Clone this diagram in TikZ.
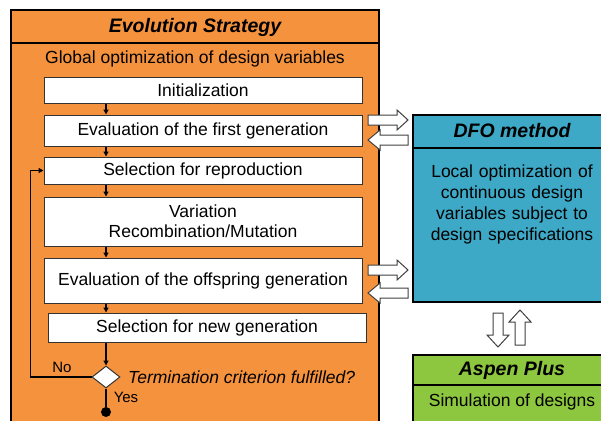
\documentclass[tikz,border=0pt]{standalone}
\usepackage{fontspec}
\setmainfont{Liberation Sans}
\usetikzlibrary{shapes.geometric, arrows.meta}
\definecolor{esorange}{RGB}{245,146,62}
\definecolor{dfoblue}{RGB}{61,169,198}
\definecolor{aspgreen}{RGB}{141,198,63}
\newcommand\fsz{\fontsize{17.5}{21}\selectfont}
\newcommand\ttl{\fontsize{19.5}{23}\selectfont\bfseries\itshape}
\newcommand\smz{\fontsize{15}{18}\selectfont}
\begin{document}
\begin{tikzpicture}[x=1pt,y=-1pt,
  box/.style={draw=black!80, line width=1pt, fill=white, minimum width=318pt, inner sep=0pt, font=\fsz, align=center},
  arr/.style={-{Triangle[length=5pt,width=5pt]}, line width=1.2pt},
  barrow/.style={draw=black!75, fill=white, line width=1pt, line join=miter},
  frame/.style={draw=black, line width=1.8pt},
  ttlnode/.style={font=\ttl, inner sep=0pt},
  txt/.style={font=\fsz, inner sep=0pt, align=center}]
\useasboundingbox (0,0) rectangle (601,420);
\clip (0,0) rectangle (601,420);
% Evolution strategy frame
\path[frame, fill=esorange] (11,10) rectangle (379,440);
\draw[frame] (11,43) -- (379,43);
\node[ttlnode] (est) at (195,27) {Evolution Strategy};
\node[txt] (glob) at (195,59) {Global optimization of design variables};
% inner boxes
\node[box, minimum height=26pt] (init) at (203,90) {Initialization};
\node[box, minimum height=31pt] (eval1) at (203,130.5) {Evaluation of the first generation};
\node[box, minimum height=27pt] (selrep) at (203,170.5) {Selection for reproduction};
\node[box, minimum height=49pt, text depth=0pt] (var) at (203,221.5) {Variation\\[-1pt]Recombination/Mutation};
\node[box, minimum height=45pt] (evalo) at (203,280.5) {Evaluation of the offspring generation};
\node[box, minimum height=29pt] (selnew) at (207,327.5) {Selection for new generation};
\node[diamond, draw=black!80, fill=white, line width=1pt, minimum width=28pt, minimum height=22pt, inner sep=0pt] (dia) at (106,377) {};
\node[circle, fill=black, minimum size=10pt, inner sep=0pt] (endc) at (106,412) {};
\node[font=\fsz\itshape, anchor=west, inner sep=0pt] (term) at (128,377) {Termination criterion fulfilled?};
\node[font=\smz, inner sep=0pt] (no) at (62,367) {No};
\node[font=\smz, inner sep=0pt] (yes) at (126,397) {Yes};
% flow arrows
\draw[arr] (init.south -| dia.north) -- (eval1.north -| dia.north);
\draw[arr] (eval1.south -| dia.north) -- (selrep.north -| dia.north);
\draw[arr] (selrep.south -| dia.north) -- (var.north -| dia.north);
\draw[arr] (var.south -| dia.north) -- (evalo.north -| dia.north);
\draw[arr] (evalo.south -| dia.north) -- (selnew.north -| dia.north);
\draw[arr] (selnew.south -| dia.north) -- (dia.north);
\draw[line width=1.2pt] (dia.south) -- (endc.north);
\draw[arr] (dia.west) -- ++(-61,0) |- (selrep.west);
% DFO box
\path[frame, fill=dfoblue] (413,115) rectangle (615,302);
\draw[frame] (413,148) -- (615,148);
\node[ttlnode] (dfot) at (512,131) {DFO method};
\node[txt, text width=190pt] (dfob) at (512,204.5) {Local optimization of\\continuous design\\variables subject to\\design specifications};
% Aspen box
\path[frame, fill=aspgreen] (413,355) rectangle (615,440);
\draw[frame] (413,385) -- (615,385);
\node[ttlnode] (aspt) at (512,370) {Aspen Plus};
\node[txt] (aspb) at (512,402) {Simulation of designs};
% block arrows between ES and DFO
\draw[barrow] (368,115) -- (397,115) -- (397,110) -- (408,120) -- (397,130) -- (397,125) -- (368,125) -- cycle;
\draw[barrow] (408,135) -- (380,135) -- (380,130) -- (368,140) -- (380,150) -- (380,145) -- (408,145) -- cycle;
\draw[barrow] (368,265) -- (397,265) -- (397,260) -- (408,270) -- (397,280) -- (397,275) -- (368,275) -- cycle;
\draw[barrow] (408,288) -- (380,288) -- (380,283) -- (368,293) -- (380,303) -- (380,298) -- (408,298) -- cycle;
% vertical block arrows
\draw[barrow] (493,313) -- (503,313) -- (503,335) -- (509,335) -- (498,347) -- (487,335) -- (493,335) -- cycle;
\draw[barrow] (515,345) -- (525,345) -- (525,322) -- (531,322) -- (520,310) -- (509,322) -- (515,322) -- cycle;
\end{tikzpicture}
\end{document}
